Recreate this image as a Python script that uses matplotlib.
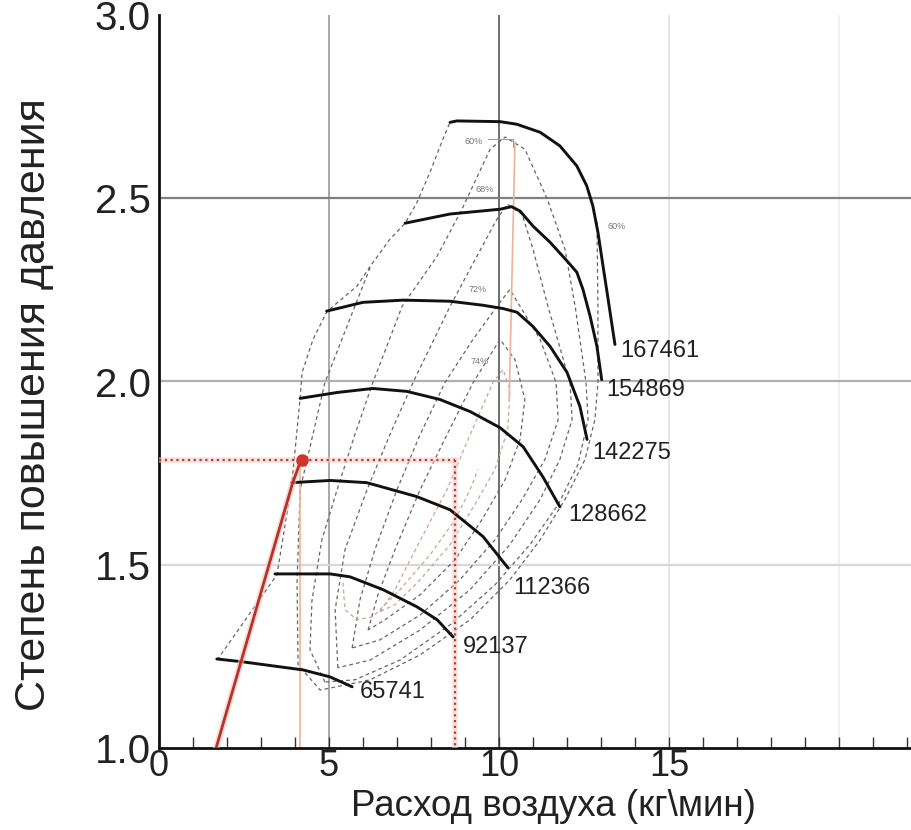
import matplotlib
matplotlib.use("Agg")
import matplotlib.pyplot as plt
from matplotlib.ticker import FixedLocator

plt.rcParams['font.family'] = ['Liberation Sans', 'DejaVu Sans']

# ---------------- data ----------------
# speed lines (rpm) : mass flow (kg/min), pressure ratio
speed_labels = ["65741", "92137", "112366", "128662", "142275", "154869", "167461"]
s65741_x = [1.70, 2.47, 4.24, 5.03, 5.68]
s65741_y = [1.243, 1.235, 1.213, 1.194, 1.167]
s92137_x = [3.41, 5.03, 5.62, 6.59, 7.59, 8.18, 8.65]
s92137_y = [1.475, 1.475, 1.467, 1.432, 1.385, 1.350, 1.303]
s112366_x = [3.90, 5.03, 6.11, 7.58, 8.56, 9.53, 10.26]
s112366_y = [1.724, 1.730, 1.724, 1.686, 1.650, 1.577, 1.492]
s128662_x = [4.15, 5.24, 6.29, 7.29, 8.26, 9.15, 10.03, 10.71, 11.29, 11.79]
s128662_y = [1.954, 1.970, 1.981, 1.973, 1.951, 1.918, 1.874, 1.822, 1.740, 1.658]
s142275_x = [4.93, 6.00, 7.18, 8.56, 9.53, 10.12, 10.53, 11.00, 11.50, 12.00, 12.38, 12.59]
s142275_y = [2.192, 2.216, 2.222, 2.219, 2.208, 2.199, 2.189, 2.150, 2.096, 2.025, 1.932, 1.842]
s154869_x = [7.24, 8.56, 10.03, 10.37, 10.62, 11.00, 11.50, 12.00, 12.29, 12.47, 12.68, 12.88, 13.02]
s154869_y = [2.432, 2.457, 2.470, 2.477, 2.465, 2.424, 2.380, 2.329, 2.298, 2.251, 2.178, 2.096, 2.005]
s167461_x = [8.56, 8.76, 10.03, 10.52, 11.21, 11.79, 12.29, 12.58, 12.76, 12.91, 13.06, 13.21, 13.41]
s167461_y = [2.707, 2.711, 2.709, 2.702, 2.680, 2.643, 2.588, 2.534, 2.479, 2.407, 2.315, 2.224, 2.101]
speed_x = [s65741_x, s92137_x, s112366_x, s128662_x, s142275_x, s154869_x, s167461_x]
speed_y = [s65741_y, s92137_y, s112366_y, s128662_y, s142275_y, s154869_y, s167461_y]
label_x = [5.90, 8.94, 10.41, 12.03, 12.74, 13.15, 13.56]
label_y = [1.153, 1.276, 1.437, 1.637, 1.806, 1.978, 2.082]

# surge line
surge_x = [1.71, 3.47, 3.91, 4.15, 4.21, 4.53, 4.94, 5.82, 6.21, 6.79, 7.24, 7.59, 7.97, 8.35, 8.56]
surge_y = [1.240, 1.473, 1.724, 1.954, 2.025, 2.115, 2.191, 2.260, 2.314, 2.388, 2.432, 2.489, 2.571, 2.661, 2.708]

# efficiency contours
k0_x = [6.21, 5.76, 4.88, 4.15, 4.06, 4.09, 4.74, 6.21, 7.68, 9.15, 10.32, 11.21, 11.94, 12.53, 12.82, 12.91, 12.91, 12.88]
k0_y = [2.311, 2.205, 1.997, 1.705, 1.451, 1.227, 1.158, 1.186, 1.254, 1.350, 1.459, 1.568, 1.678, 1.787, 1.896, 1.997, 2.205, 2.437]
k1_x = [4.88, 4.44, 4.50, 4.79, 5.24, 5.76, 6.29, 7.15, 8.18, 8.91, 9.74, 10.18, 10.76, 11.41, 11.94, 12.24, 12.56, 12.62, 12.32, 11.74, 10.91, 9.88, 8.56, 7.09, 5.76, 4.88]
k1_y = [1.180, 1.268, 1.404, 1.568, 1.705, 1.855, 1.997, 2.205, 2.342, 2.470, 2.634, 2.667, 2.634, 2.500, 2.361, 2.205, 1.997, 1.896, 1.773, 1.664, 1.555, 1.445, 1.336, 1.240, 1.186, 1.180]
k2_x = [5.26, 5.18, 5.47, 6.12, 6.79, 7.47, 8.56, 9.38, 9.94, 10.24, 10.68, 11.00, 11.44, 12.09, 12.15, 11.79, 11.21, 10.32, 9.15, 7.68, 6.21, 5.26]
k2_y = [1.219, 1.377, 1.541, 1.705, 1.855, 1.997, 2.205, 2.347, 2.443, 2.484, 2.456, 2.361, 2.205, 1.997, 1.896, 1.787, 1.678, 1.555, 1.432, 1.322, 1.240, 1.219]
k3_x = [5.68, 5.91, 6.35, 7.00, 7.68, 8.41, 9.20, 9.94, 10.32, 10.62, 11.21, 11.68, 11.74, 11.35, 10.68, 9.88, 8.85, 7.68, 6.50, 5.68]
k3_y = [1.273, 1.404, 1.541, 1.705, 1.855, 1.997, 2.110, 2.205, 2.251, 2.205, 2.115, 1.997, 1.896, 1.787, 1.678, 1.568, 1.459, 1.363, 1.295, 1.273]
k4_x = [6.15, 6.44, 6.94, 7.68, 8.47, 9.24, 10.03, 10.47, 10.76, 10.62, 10.18, 9.50, 8.71, 7.68, 6.65, 6.15]
k4_y = [1.322, 1.418, 1.541, 1.705, 1.855, 1.997, 2.115, 2.060, 1.951, 1.842, 1.732, 1.623, 1.514, 1.418, 1.350, 1.322]
k5_x = [6.50, 6.94, 7.62, 8.47, 9.15, 9.82, 10.12, 10.32, 10.26, 9.88, 9.29, 8.56, 7.68, 6.94, 6.50]
k5_y = [1.372, 1.432, 1.555, 1.705, 1.855, 1.997, 2.033, 1.978, 1.869, 1.760, 1.664, 1.555, 1.459, 1.391, 1.372]
k6_x = [5.41, 5.47, 5.82, 6.29, 7.09, 7.97, 8.71, 9.15, 9.38]
k6_y = [1.451, 1.377, 1.350, 1.358, 1.432, 1.527, 1.623, 1.705, 1.760]
contours_x = [k0_x, k1_x, k2_x, k3_x, k4_x]
contours_y = [k0_y, k1_y, k2_y, k3_y, k4_y]
pink_x = [k5_x, k6_x]
pink_y = [k5_y, k6_y]
eff_labels = ["60%", "68%", "60%", "72%", "74%"]
eff_lx = [9.24, 9.59, 13.47, 9.38, 9.44]
eff_ly = [2.656, 2.525, 2.423, 2.251, 2.055]

# operating line / point
op_line_x = [1.68, 3.92, 4.18]
op_line_y = [1.0, 1.72, 1.787]
op_x = 4.20
op_y = 1.787
op_flow = 8.71
orange_v1_x = [4.15, 4.15]
orange_v1_y = [1.787, 1.0]
orange_v2_x = [10.47, 10.30]
orange_v2_y = [2.653, 1.95]

# ---------------- figure ----------------
fig = plt.figure(figsize=(9.11, 8.30), dpi=100)
ax = fig.add_axes([159/911, 82/830, 752/911, 733/830])
ax.set_xlim(0, 752/34)
ax.set_ylim(1.0, 3.0)

# grid lines with individual shades
xgrid = [5, 10, 15, 20]
xgrid_c = ['#9a9a9a', '#555555', '#e2e2e2', '#eeeeee']
for v, c in zip(xgrid, xgrid_c):
    ax.axvline(v, color=c, lw=1.2, zorder=0)
ygrid = [1.5, 2.0, 2.5]
ygrid_c = ['#d8d8d8', '#b0b0b0', '#808080']
for v, c in zip(ygrid, ygrid_c):
    ax.axhline(v, color=c, lw=1.6, zorder=0)

# efficiency contours
for xs, ys in zip(contours_x, contours_y):
    ax.plot(xs, ys, color='#666666', lw=0.9, ls=(0, (3, 2.5)), zorder=2)
for xs, ys in zip(pink_x, pink_y):
    ax.plot(xs, ys, color='#c9a49a', lw=0.9, ls=(0, (3, 2.5)), zorder=2)
for t, x, y in zip(eff_labels, eff_lx, eff_ly):
    ax.text(x, y, t, fontsize=6.5, color='#777777', ha='center', va='center', zorder=3)
ax.plot([9.68, 10.41, 10.41], [2.661, 2.661, 2.64], color='#999999', lw=0.7, zorder=2)

# surge line
ax.plot(surge_x, surge_y, color='#666666', lw=0.9, ls=(0, (3, 2.5)), zorder=2)

# thin orange verticals
ax.plot(orange_v1_x, orange_v1_y, color='#e9b49a', lw=1.2, zorder=2)
ax.plot(orange_v2_x, orange_v2_y, color='#e9b49a', lw=1.2, zorder=2)

# speed lines
for xs, ys in zip(speed_x, speed_y):
    ax.plot(xs, ys, color='#111111', lw=2.1, solid_capstyle='round',
            solid_joinstyle='round', zorder=4)
for t, x, y in zip(speed_labels, label_x, label_y):
    ax.text(x, y, t, fontsize=17, color='#222222', ha='left', va='center', zorder=5)

# operating point guides
ax.plot([0, op_flow], [op_y, op_y], color='#f6d0ca', lw=4, zorder=3, alpha=0.6)
ax.plot([op_flow, op_flow], [op_y, 1.0], color='#f6d0ca', lw=4, zorder=3, alpha=0.6)
ax.plot([0, op_flow], [op_y, op_y], color='#c0392b', lw=1.6, ls=(0, (1, 1.6)), zorder=4)
ax.plot([op_flow, op_flow], [op_y, 1.0], color='#c0392b', lw=1.6, ls=(0, (1, 1.6)), zorder=4)
ax.plot(op_line_x, op_line_y, color='#f4c4bc', lw=4.5, zorder=4, alpha=0.6)
ax.plot(op_line_x, op_line_y, color='#b83228', lw=2.0, zorder=5)
ax.plot([op_x], [op_y], 'o', color='#d0342c', ms=8, zorder=6)

# axes styling
for s in ['top', 'right']:
    ax.spines[s].set_visible(False)
for s in ['left', 'bottom']:
    ax.spines[s].set_linewidth(2.0)
    ax.spines[s].set_color('#111111')

ax.xaxis.set_major_locator(FixedLocator([0, 5, 10, 15]))
ax.xaxis.set_minor_locator(FixedLocator(list(range(1, 23))))
ax.tick_params(axis='x', which='both', direction='in', length=8, width=1.0, color='#333333',
               labelsize=26, pad=0.5)
ax.set_yticks([1.0, 1.5, 2.0, 2.5, 3.0])
ax.set_yticklabels(['1.0', '1.5', '2.0', '2.5', '3.0'])
ax.tick_params(axis='y', length=0, labelsize=29, pad=6)
for lab in ax.get_xticklabels() + ax.get_yticklabels():
    lab.set_color('#222222')

ax.set_xlabel('Расход воздуха (кг\\мин)', fontsize=26.5, color='#222222', labelpad=0)
ax.xaxis.set_label_coords(0.525, -(789 - 748) / 733)
ax.set_ylabel('Степень повышения давления', fontsize=31, color='#222222')
ax.yaxis.set_label_coords(-0.14, 0.468)

fig.savefig('out.png', dpi=100)
